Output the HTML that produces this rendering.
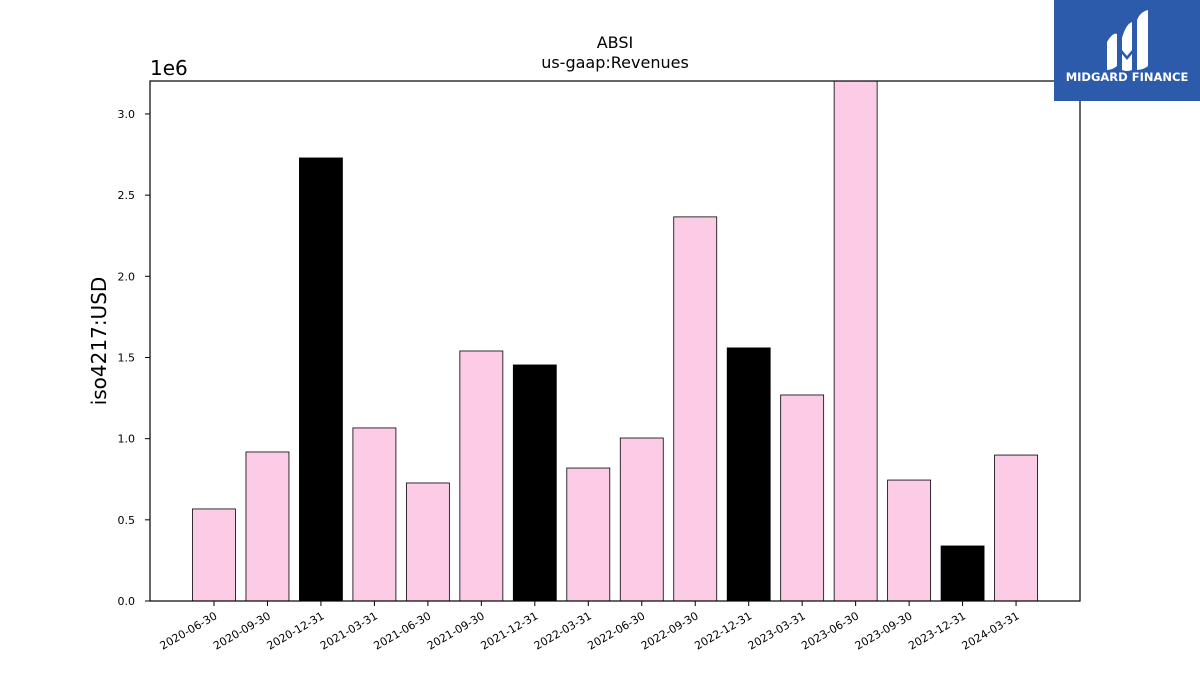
<!DOCTYPE html>
<html><head><meta charset="utf-8"><style>
body{margin:0;background:#fff;}
svg text{font-family:"DejaVu Sans","Liberation Sans",sans-serif;}
</style></head><body>
<svg width="1200" height="675" xmlns="http://www.w3.org/2000/svg">
<g id="plot"></g>
<text x="615" y="48" text-anchor="middle" font-size="16">ABSI</text>
<text x="615" y="68" text-anchor="middle" font-size="16">us-gaap:Revenues</text>
<text x="150" y="75" font-size="20">1e6</text>
<text transform="translate(106,341) rotate(-90)" text-anchor="middle" font-size="20">iso4217:USD</text>
<g>
<rect x="1054" y="0" width="146" height="101" fill="#2d5bab"/>
<path d="M1107 42 q6-10 10-8 v32 q-5 4-10 4z M1122 38 q4-14 10-16 v28 l-5 6 -5-6z M1137 20 q3-8 11-10 v56 q-5 4-11 4z M1122 54 l5 6 5-6 v16 q-5 2-10 0z" fill="#fff"/>
<text x="1127" y="81" text-anchor="middle" font-size="11.5" font-weight="bold" fill="#fff">MIDGARD FINANCE</text>
</g>
</svg>
<script>
const categories=["2020-06-30","2020-09-30","2020-12-31","2021-03-31","2021-06-30","2021-09-30","2021-12-31","2022-03-31","2022-06-30","2022-09-30","2022-12-31","2023-03-31","2023-06-30","2023-09-30","2023-12-31","2024-03-31"];
const values=[0.567,0.918,2.729,1.066,0.727,1.540,1.454,0.819,1.004,2.366,1.559,1.269,3.3,0.745,0.339,0.899];
const highlight=[0,0,1,0,0,0,1,0,0,0,1,0,0,0,1,0];
const yTicks=[0,0.5,1.0,1.5,2.0,2.5,3.0];
const yTickLabels=["0.0","0.5","1.0","1.5","2.0","2.5","3.0"];
const NS="http://www.w3.org/2000/svg";
const L=150,R=1080,T=81,B=601,yMax=3.203;
const y=v=>B-(v/yMax)*(B-T);
const step=53.47,x=i=>214+step*i,bw=43;
const g=document.getElementById('plot');
function mk(t,a){const e=document.createElementNS(NS,t);for(const k in a)e.setAttribute(k,a[k]);g.appendChild(e);return e;}
const clip=mk('clipPath',{id:'c'});
const cr=document.createElementNS(NS,'rect');cr.setAttribute('x',L);cr.setAttribute('y',T);cr.setAttribute('width',R-L);cr.setAttribute('height',B-T);clip.appendChild(cr);
values.forEach((v,i)=>{
const r=mk('rect',{x:x(i)-bw/2,y:y(v),width:bw,height:B-y(v),fill:highlight[i]?'#000':'#fccbe6',stroke:'#000','stroke-width':0.8,'clip-path':'url(#c)'});


const tk=mk('line',{x1:x(i),x2:x(i),y1:B,y2:B+5,stroke:'#000'});


const t=mk('text',{transform:`translate(${x(i)+4},${B+17}) rotate(-30)`,'text-anchor':'end','font-size':11});
t.textContent=categories[i];


});
yTicks.forEach((v,i)=>{
const tk=mk('line',{x1:L-5,x2:L,y1:y(v),y2:y(v),stroke:'#000'});


const t=mk('text',{x:L-15,y:y(v)+4,'text-anchor':'end','font-size':11});
t.textContent=yTickLabels[i];


});
const f=mk('rect',{x:L,y:T,width:R-L,height:B-T,fill:'none',stroke:'#000','stroke-width':1.2});


</script>
</body></html>
